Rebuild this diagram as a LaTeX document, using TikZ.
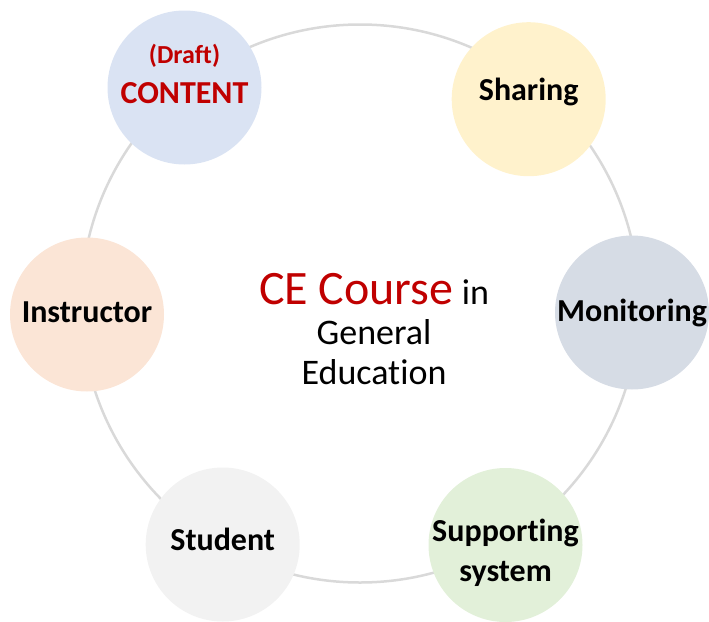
\documentclass[tikz,border=0pt]{standalone}
\usepackage{fontspec}
\setmainfont{Carlito}[Ligatures=NoCommon]
\definecolor{ringgray}{HTML}{D9D9D9}
\definecolor{draftred}{HTML}{C00000}
\definecolor{contentblue}{HTML}{DAE3F3}
\definecolor{sharingyellow}{HTML}{FFF2CC}
\definecolor{monitorgray}{HTML}{D6DCE5}
\definecolor{instructorpeach}{HTML}{FBE5D6}
\definecolor{studentgray}{HTML}{F2F2F2}
\definecolor{supportgreen}{HTML}{E2F0D9}
\begin{document}
\begin{tikzpicture}[x=1pt, y=-1pt, font=\fontsize{32}{40}\selectfont\bfseries, bubble/.style={circle, minimum size=154pt, inner sep=-6pt, outer sep=0pt, align=center, text height=22pt}, line join=miter]
        \useasboundingbox (0,0) rectangle (709,621);
        \node[circle, draw=ringgray, line width=2.5pt, minimum size=558pt, inner sep=0pt] (ring) at (360,303.5) {};

        \node[bubble, fill=contentblue, text=draftred, text height=61pt, text depth=30pt] (content) at (184.5,87.5) {{\fontsize{26}{40}\selectfont(Draft)}\\CONTENT};
        \node[bubble, fill=sharingyellow, text depth=20pt] (sharing) at (528.7,99.2) {Sharing};
        \node[bubble, fill=monitorgray, text depth=4pt] (monitoring) at (632,312.5) {Monitoring};
        \node[bubble, fill=supportgreen, text height=74pt, text depth=0.6pt] (supporting) at (505.5,545) {Supporting\\system};
        \node[bubble, fill=studentgray, text depth=11pt] (student) at (222.7,544.5) {Student};
        \node[bubble, fill=instructorpeach, text depth=7pt] (instructor) at (87,314.5) {Instructor};

        \node[align=center, font=\fontsize{36}{40}\selectfont\mdseries] (course) at (374,329) {{\fontsize{48}{40}\selectfont\color{draftred}CE Course} in\\General\\Education};
    \end{tikzpicture}
\end{document}
